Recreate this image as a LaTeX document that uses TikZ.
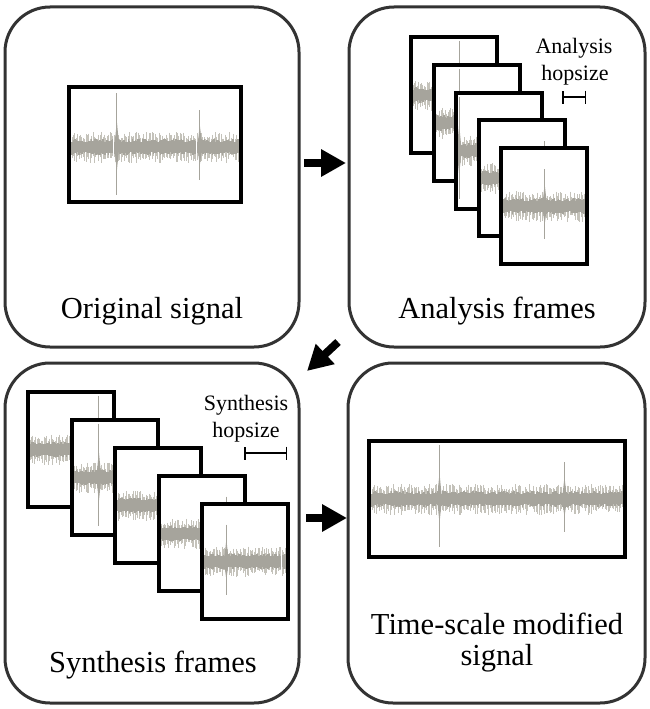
\documentclass[tikz,border=0pt]{standalone}
\usepackage{fontspec}
\setmainfont{Liberation Serif}
\usepackage{tikz}
\usetikzlibrary{arrows.meta}

\definecolor{sigdark}{HTML}{A6A49C}
\definecolor{siglight}{HTML}{C4C2BA}

\newcommand{\drawsig}[3]{%
  \pgfmathsetseed{42}%
  \pgfmathtruncatemacro{\wvN}{(#2-#1)/1.4}%
  \pgfmathsetmacro{\wvStep}{(#2-#1)/\wvN}%
  \foreach \k in {0,...,\wvN}{%
    \pgfmathsetmacro{\wvX}{#1+\k*\wvStep}%
    \pgfmathsetmacro{\wvUp}{8+7*rnd}%
    \pgfmathsetmacro{\wvDn}{8+8*rnd}%
    \pgfmathsetmacro{\wvCu}{5+3*rnd}%
    \pgfmathsetmacro{\wvCd}{5+3*rnd}%
    \draw[siglight, line width=0.9pt] (\wvX,#3-\wvUp) -- (\wvX,#3+\wvDn);
    \draw[sigdark, line width=1.4pt] (\wvX,#3-\wvCu) -- (\wvX,#3+\wvCd);
  }%
  \pgfmathsetmacro{\wvA}{#1+0.27*(#2-#1)}%
  \pgfmathsetmacro{\wvB}{#1+0.77*(#2-#1)}%
  \draw[sigdark, line width=1.2pt] (\wvA,#3-54) -- (\wvA,#3+48);
  \fill[sigdark] (\wvA-2.5,#3) -- (\wvA,#3-26) -- (\wvA+2.5,#3) -- (\wvA,#3+24) -- cycle;
  \draw[sigdark, line width=1.2pt] (\wvB,#3-37) -- (\wvB,#3+33);
  \fill[sigdark] (\wvB-2.5,#3) -- (\wvB,#3-22) -- (\wvB+2.5,#3) -- (\wvB,#3+18) -- cycle;
}

\begin{document}
\begin{tikzpicture}[x=1pt, y=-1pt,
  panel/.style={draw=black!80, line width=3pt, rounded corners=45pt,
    minimum width=294pt, minimum height=340pt},
  frame/.style={line width=4pt},
  bigtxt/.style={font=\fontsize{30.5}{31}\selectfont, anchor=base, inner sep=0pt},
  smalltxt/.style={font=\fontsize{22}{24}\selectfont, anchor=base, inner sep=0pt},
  flow/.style={line width=8pt, -{Triangle[length=25pt,width=26pt]}},
  hop/.style={line width=1.5pt, {Bar[width=13pt]}-{Bar[width=13pt]}}]

\useasboundingbox (0,0) rectangle (650,709);

\node[panel] (orig) at (152,177) {};
\node[panel, minimum width=296pt] (ana) at (497,177) {};
\node[panel] (syn) at (152,533) {};
\node[panel, minimum width=297pt] (tsm) at (496.5,533) {};

% original signal
\begin{scope}
\clip (69,87) rectangle (241,202);
\drawsig{72}{238}{147}
\end{scope}
\draw[frame] (69,87) rectangle (241,202);

% analysis frames
\foreach \i in {0,...,4}{
  \pgfmathsetmacro{\fx}{411+22.5*\i}
  \pgfmathsetmacro{\fy}{37+27.8*\i}
  \begin{scope}
    \clip (\fx,\fy) rectangle ++(86,116);
    \fill[white] (\fx,\fy) rectangle ++(86,116);
    \drawsig{413}{584}{\fy+58}
  \end{scope}
  \draw[frame] (\fx,\fy) rectangle ++(86,116);
}

% synthesis frames
\foreach \i in {0,...,4}{
  \pgfmathsetmacro{\fx}{28+43.5*\i}
  \pgfmathsetmacro{\fy}{392+28*\i}
  \begin{scope}
    \clip (\fx,\fy) rectangle ++(86,115);
    \fill[white] (\fx,\fy) rectangle ++(86,115);
    \drawsig{30}{285}{\fy+57.5}
  \end{scope}
  \draw[frame] (\fx,\fy) rectangle ++(86,115);
}

% modified signal
\begin{scope}
\clip (369,441) rectangle (625,557);
\drawsig{372}{622}{499}
\end{scope}
\draw[frame] (369,441) rectangle (625,557);

\node[bigtxt] (origlbl) at (152,318) {Original signal};
\node[bigtxt] (analbl) at (497,318) {Analysis frames};
\node[bigtxt] (synlbl) at (153,672) {Synthesis frames};
\node[bigtxt] (tsmlbl) at (497,634) {Time-scale modified};
\node[bigtxt] (tsmlbl2) at (497,665) {signal};

\node[smalltxt] (anahop) at (574,54) {Analysis};
\node[smalltxt] (anahop2) at (575,81) {hopsize};
\node[smalltxt] (synhop) at (246,410) {Synthesis};
\node[smalltxt] (synhop2) at (246,437) {hopsize};

\coordinate (anaL) at (562,97);
\coordinate (anaR) at (586,97);
\coordinate (synL) at (244,453);
\coordinate (synR) at (287,453);
\draw[hop] (anaL) -- (anaR);
\draw[hop] (synL) -- (synR);

\coordinate (a1) at (304,163);
\coordinate (b1) at (346,163);
\coordinate (a2) at (338,342);
\coordinate (b2) at (307,371);
\coordinate (a3) at (306,518);
\coordinate (b3) at (347,518);
\draw[flow] (a1) -- (b1);
\draw[flow] (a2) -- (b2);
\draw[flow] (a3) -- (b3);

\end{tikzpicture}
\end{document}
